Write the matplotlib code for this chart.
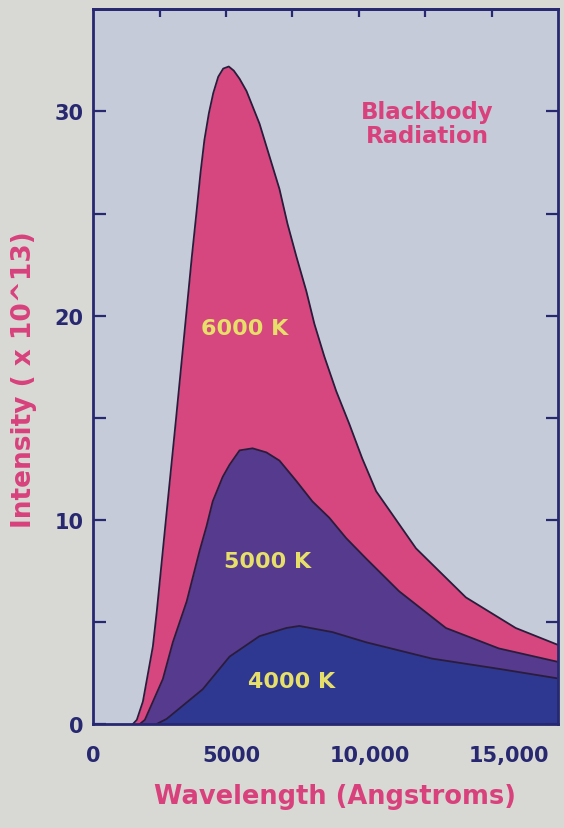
import matplotlib.pyplot as plt
from matplotlib.ticker import FixedLocator

# --- values ---------------------------------------------------------------------
WL_6000 = [1440, 1580, 1800, 2160, 2300, 2630, 3000, 3360, 3560, 3730, 3880, 4020,
           4180, 4340, 4520, 4700, 4900, 5080, 5290, 5540, 6010, 6370, 6730, 7020,
           7340, 7700, 7990, 8350, 8780, 9250, 9720, 10220, 11660, 13460, 15260,
           16920]
INT_6000 = [0, 0.2, 1.1, 3.8, 5.5, 10.0, 15.0, 20.0, 22.8, 25.0, 27.0, 28.6,
            29.9, 30.9, 31.7, 32.1, 32.2, 32.0, 31.6, 31.0, 29.4, 27.8, 26.2, 24.5,
            22.9, 21.2, 19.6, 18.0, 16.3, 14.7, 13.0, 11.4, 8.6, 6.2, 4.7,
            3.8]

WL_5000 = [1690, 1870, 2520, 2880, 3380, 3850, 4100, 4320, 4680, 4930, 5290, 5760,
           6260, 6730, 7340, 7920, 8530, 9140, 9860, 11050, 12740, 14650, 16920]
INT_5000 = [0, 0.2, 2.2, 4.0, 6.0, 8.5, 9.7, 10.9, 12.1, 12.7, 13.4, 13.5,
            13.3, 12.9, 11.9, 10.9, 10.1, 9.1, 8.1, 6.5, 4.7, 3.7, 3.0]

WL_4000 = [2300, 2660, 3960, 4930, 6010, 6980, 7450, 8640, 9860, 12240, 14650, 16920]
INT_4000 = [0, 0.25, 1.7, 3.3, 4.3, 4.7, 4.8, 4.5, 4.0, 3.2, 2.7, 2.2]

CURVE_LABELS = ["6000 K", "5000 K", "4000 K"]
LABEL_POS = [(5470, 19.4), (6300, 8.0), (7160, 2.1)]

X_TICKS = [0, 5000, 10000, 15000]
X_TICK_LABELS = ["0", "5000", "10,000", "15,000"]
TOP_TICKS = [2400, 4800, 7200, 9600, 12000, 14400]
Y_MAJOR = [0, 10, 20, 30]
Y_MINOR = [5, 15, 25]

# --- colours --------------------------------------------------------------------
NAVY = "#27286f"
PINK_TEXT = "#d8417c"
FILLS = ["#d6477f", "#553a8d", "#2f3891"]
EDGE = "#2a1c3c"
YELLOW = "#e6df6a"

fig = plt.figure(figsize=(5.64, 8.29), dpi=100)
fig.patch.set_facecolor("#d8d9d5")
ax = fig.add_axes([0.165, 0.1255, 0.825, 0.862])
ax.set_facecolor("#c5cbd8")

series = [(WL_6000, INT_6000), (WL_5000, INT_5000), (WL_4000, INT_4000)]
for (wl, inten), fc in zip(series, FILLS):
    ax.fill_between(wl, inten, 0, color=fc, lw=0)
    ax.plot(wl, inten, color=EDGE, lw=1.3)

for label, (x, y) in zip(CURVE_LABELS, LABEL_POS):
    ax.text(x, y, label, color=YELLOW, fontsize=16, fontweight="bold",
            ha="center", va="center")

ax.text(12060, 29.4, "Blackbody\nRadiation", color=PINK_TEXT, fontsize=16.5,
        fontweight="bold", ha="center", va="center", linespacing=1.05)

ax.set_xlim(0, 16800)
ax.set_ylim(0, 35)

ax.set_xticks(X_TICKS)
ax.set_xticklabels(X_TICK_LABELS)
ax.tick_params(axis="x", length=0, pad=15, labelsize=15, labelcolor=NAVY)
ax.yaxis.set_major_locator(FixedLocator(Y_MAJOR))
ax.yaxis.set_minor_locator(FixedLocator(Y_MINOR))
ax.tick_params(axis="y", which="both", direction="in", length=9, width=1.6,
               color=NAVY, left=True, right=True, labelsize=15, labelcolor=NAVY,
               pad=7)
for lab in ax.get_xticklabels() + ax.get_yticklabels():
    lab.set_fontweight("bold")

top = ax.secondary_xaxis("top")
top.set_xticks(TOP_TICKS)
top.set_xticklabels([])
top.tick_params(direction="in", length=6, width=1.6, color=NAVY)
top.spines["top"].set_color(NAVY)
top.spines["top"].set_linewidth(2)

for s in ax.spines.values():
    s.set_color(NAVY)
    s.set_linewidth(2)

ax.set_xlabel("Wavelength (Angstroms)", color=PINK_TEXT, fontsize=18.5,
              fontweight="bold")
ax.xaxis.set_label_coords(0.52, -0.082)
ax.set_ylabel("Intensity ( x 10^13)", color=PINK_TEXT, fontsize=19,
              fontweight="bold")
ax.yaxis.set_label_coords(-0.12, 0.483)

fig.savefig("out.png", dpi=100, facecolor=fig.get_facecolor())
